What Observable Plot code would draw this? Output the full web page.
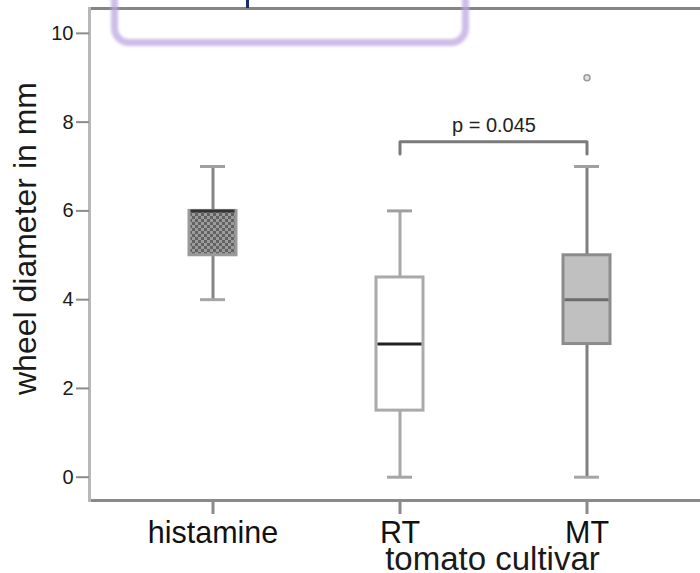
<!DOCTYPE html>
<html><head><meta charset="utf-8">
<script src="https://cdn.jsdelivr.net/npm/d3@7"></script>
<script src="https://cdn.jsdelivr.net/npm/@observablehq/plot@0.6"></script>
<style>
html,body{margin:0;padding:0;background:#fff;overflow:hidden;}
#wrap{position:relative;width:700px;height:573px;overflow:hidden;}
#hl{position:absolute;left:111px;top:-44px;width:344px;height:76px;border:7px solid rgba(190,165,225,0.75);border-radius:18px;filter:blur(1.5px);pointer-events:none;}
#bluemark{position:absolute;left:246px;top:0;width:3px;height:8px;background:#1b2a6b;}
</style></head><body><div id="wrap"></div>
<script>
// ---- data ----
const categories = ["histamine", "RT", "MT"];
const q1 = [5, 1.5, 3];
const medians = [6, 3, 4];
const q3 = [6, 4.5, 5];
const whiskerLow = [4, 0, 0];
const whiskerHigh = [7, 6, 7];
const outlierGroups = ["MT"];
const outlierValues = [9];
const yTicks = [0, 2, 4, 6, 8, 10];
const sigFrom = "RT", sigTo = "MT";
const sigLabel = "p = 0.045";
const sigY = 7.56, sigLegY = 7.28, sigLabelY = 7.92;
const yLabel = "wheel diameter in mm";
const xLabel = "tomato cultivar";

// ---- styles ----
const boxFill = {histamine: "url(#checker)", RT: "#ffffff", MT: "#c0c0c0"};
const boxStroke = {histamine: "#9a9a9a", RT: "#aaaaaa", MT: "#8c8c8c"};
const medianStroke = {histamine: "#333333", RT: "#222222", MT: "#6c6c6c"};
const whiskerStroke = {histamine: "#858585", RT: "#a8a8a8", MT: "#808080"};

const rows = categories.map((c, i) => ({
  cat: c, q1: q1[i], med: medians[i], q3: q3[i], lo: whiskerLow[i], hi: whiskerHigh[i]
}));
const outliers = outlierGroups.map((g, i) => ({cat: g, value: outlierValues[i]}));

const yDomain = [-0.525, 10.56];
const marks = [
  Plot.ruleY([yDomain[1]], {stroke: "#858585", strokeWidth: 3}),
  Plot.ruleY([yDomain[0]], {stroke: "#8a8a8a", strokeWidth: 3}),
  Plot.frame({anchor: "left", stroke: "#b8b8b8", strokeWidth: 3}),
  Plot.axisY({ticks: yTicks, tickSize: 13, tickPadding: 3, fontSize: 20, stroke: "#8c8c8c", strokeWidth: 2, fill: "#1a1a1a", label: null}),
  Plot.axisX({tickSize: 14, tickPadding: 7, fontSize: 30.5, stroke: "#8a8a8a", strokeWidth: 3, fill: "#111", label: null})
];
rows.forEach(r => {
  marks.push(
    Plot.ruleX([r], {x: "cat", y1: "lo", y2: "hi", stroke: whiskerStroke[r.cat], strokeWidth: 3}),
    Plot.tickY([r], {x: "cat", y: "lo", insetLeft: 81, insetRight: 81, stroke: "#a6a6a6", strokeWidth: 3}),
    Plot.tickY([r], {x: "cat", y: "hi", insetLeft: 81, insetRight: 81, stroke: "#a0a0a0", strokeWidth: 3}),
    Plot.barY([r], {x: "cat", y1: "q1", y2: "q3", insetLeft: 70, insetRight: 70, fill: boxFill[r.cat], stroke: boxStroke[r.cat], strokeWidth: 3}),
    Plot.tickY([r], {x: "cat", y: "med", insetLeft: 71.5, insetRight: 71.5, stroke: medianStroke[r.cat], strokeWidth: 3})
  );
});
marks.push(
  Plot.dot(outliers, {x: "cat", y: "value", r: 3, stroke: "#9a9a9a", fill: "#e2e2e2", strokeWidth: 1.5}),
  Plot.line([{x: sigFrom, y: sigLegY}, {x: sigFrom, y: sigY}, {x: sigTo, y: sigY}, {x: sigTo, y: sigLegY}],
    {x: "x", y: "y", stroke: "#7a7a7a", strokeWidth: 3}),
  Plot.text([sigLabel], {x: [sigFrom], y: [sigLabelY], dx: 94, fontSize: 20, fill: "#222"}),
  Plot.text([yLabel], {frameAnchor: "left", textAnchor: "middle", lineAnchor: "middle", dx: -64, dy: -16, rotate: -90, fontSize: 32, fill: "#1a1a1a"}),
  Plot.text([xLabel], {frameAnchor: "bottom", textAnchor: "middle", lineAnchor: "middle", dx: 97.5, dy: 59, fontSize: 33, fill: "#1a1a1a"})
);

const chart = Plot.plot({
  width: 700, height: 573,
  marginLeft: 89, marginRight: 0, marginTop: 8, marginBottom: 73,
  style: {fontFamily: "'Liberation Sans', Arial, sans-serif", background: "white", overflow: "visible"},
  x: {type: "band", domain: categories, range: [118, 681], padding: 0, axis: null},
  y: {domain: yDomain, axis: null},
  marks
});

// checker pattern for the histamine box
const ns = "http://www.w3.org/2000/svg";
const defs = document.createElementNS(ns, "defs");
defs.innerHTML = '<pattern id="checker" width="6" height="6" patternUnits="userSpaceOnUse">' +
  '<rect width="6" height="6" fill="#9c9c9c"/><rect width="3" height="3" fill="#626262"/>' +
  '<rect x="3" y="3" width="3" height="3" fill="#626262"/></pattern>';
chart.insertBefore(defs, chart.firstChild);

const wrap = document.getElementById("wrap");
wrap.appendChild(chart);
const hl = document.createElement("div"); hl.id = "hl"; wrap.appendChild(hl);
const bm = document.createElement("div"); bm.id = "bluemark"; wrap.appendChild(bm);
</script></body></html>
